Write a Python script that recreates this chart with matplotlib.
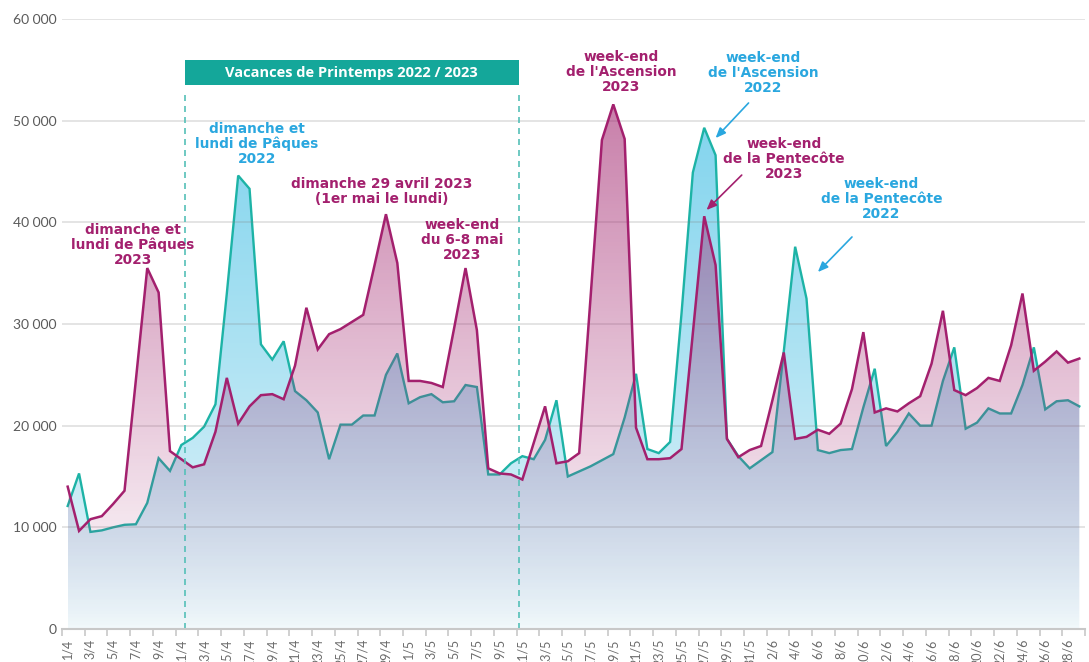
import matplotlib
matplotlib.use("Agg")
import matplotlib.pyplot as plt
import numpy as np
import pandas as pd
from matplotlib.patches import Polygon, Rectangle

plt.rcParams['font.family'] = ['Lato', 'DejaVu Sans']

# days from 1/4 to 29/6
dates = pd.date_range("2023-04-01", periods=90)
day_labels = [f"{d.day}/{d.month}" for d in dates]

visits_2022 = [12100, 15300, 9550, 9700, 10000, 10250, 10300, 12400, 16800, 15550,
               18100, 18800, 19900, 22100, 33000, 44600, 43300, 28000, 26500, 28300,
               23400, 22500, 21300, 16700, 20100, 20100, 21000, 21000, 25000, 27100,
               22200, 22800, 23100, 22300, 22400, 24000, 23800, 15200, 15200, 16300,
               17000, 16700, 18600, 22500, 15000, 15500, 16000, 16600, 17200, 20800,
               25100, 17700, 17300, 18400, 31000, 44900, 49300, 46600, 18700, 17000,
               15800, 16600, 17400, 27300, 37600, 32500, 17600, 17300, 17600, 17700,
               21800, 25600, 18000, 19400, 21200, 20000, 20000, 24400, 27700, 19700,
               20300, 21700, 21200, 21200, 24000, 27700, 21600, 22400, 22500, 21900]

visits_2023 = [14000, 9650, 10800, 11100, 12300, 13600, 24500, 35500, 33100, 17500,
               16700, 15900, 16200, 19400, 24700, 20200, 21900, 23000, 23100, 22600,
               25900, 31600, 27500, 29000, 29500, 30200, 30900, 35800, 40800, 36000,
               24400, 24400, 24200, 23800, 29600, 35500, 29400, 15800, 15300, 15200,
               14700, 18300, 21900, 16300, 16500, 17300, 32600, 48100, 51600, 48200,
               19800, 16700, 16700, 16800, 17700, 29100, 40600, 35800, 18700, 16900,
               17600, 18000, 22500, 27200, 18700, 18900, 19600, 19200, 20200, 23600,
               29200, 21300, 21700, 21400, 22200, 22900, 26100, 31300, 23500, 23000,
               23700, 24700, 24400, 27900, 33000, 25400, 26300, 27300, 26200, 26600]

yticks = [0, 10000, 20000, 30000, 40000, 50000, 60000]

TEAL = '#1db3a6'
MAGENTA = '#a3206e'
BLUE = '#2aa7df'
BOX = '#14a79a'
NOTE_FONT = ['DejaVu Sans']
BOX_FONT = ['Open Sans', 'DejaVu Sans']

fig = plt.figure(figsize=(10.89, 6.62), dpi=100)
ax = fig.add_axes([62 / 1089, 33 / 662, 1023 / 1089, 610 / 662])
x = np.arange(len(day_labels))


def gradient_area(ax, x, y, top, bottom, ymax, z, gamma=1.0):
    verts = [(x[0], 0)] + list(zip(x, y)) + [(x[-1], 0)]
    poly = Polygon(verts, closed=True, fc='none', ec='none')
    ax.add_patch(poly)
    t = (np.linspace(0, 1, 256) ** gamma)[:, None]
    grad = np.array(bottom) + (np.array(top) - np.array(bottom)) * t
    im = ax.imshow(grad.reshape(256, 1, 4), extent=[x[0], x[-1], 0, ymax],
                   origin='lower', aspect='auto', zorder=z, interpolation='bilinear')
    im.set_clip_path(poly)


# 2022 area (opaque blue gradient), then its line
gradient_area(ax, x, visits_2022, (0.50, 0.83, 0.93, 1), (0.95, 0.975, 0.985, 1), 52000, 1, 0.8)
ax.plot(x, visits_2022, color=TEAL, lw=1.7, zorder=2, solid_joinstyle='miter')
# 2023 area (translucent magenta), then its line
gradient_area(ax, x, visits_2023, (0.64, 0.16, 0.44, 0.6), (0.64, 0.16, 0.44, 0.0), 52000, 3, 1.0)
ax.plot(x, visits_2023, color=MAGENTA, lw=1.8, zorder=4, solid_joinstyle='miter')

# holidays band
for xv in (10.3, 39.7):
    ax.plot([xv, xv], [0, 52900], color='#55c0b8', lw=1.2, ls=(0, (3.6, 3.0)), zorder=5)
ax.add_patch(Rectangle((10.3, 53500), 29.4, 2450, fc=BOX, ec='none', zorder=6))
ax.text(25.0, 54700, "Vacances de Printemps 2022 / 2023", color='white', fontsize=10.5,
        fontweight='bold', ha='center', va='center', zorder=7, family=BOX_FONT)

# annotations
notes = [
    (5.74, 37770, "dimanche et\nlundi de Pâques\n2023", MAGENTA),
    (16.65, 47700, "dimanche et\nlundi de Pâques\n2022", BLUE),
    (27.6, 43030, "dimanche 29 avril 2023\n(1er mai le lundi)", MAGENTA),
    (34.7, 38260, "week-end\ndu 6-8 mai\n2023", MAGENTA),
    (48.7, 54790, "week-end\nde l'Ascension\n2023", MAGENTA),
    (61.2, 54690, "week-end\nde l'Ascension\n2022", BLUE),
    (63.0, 46230, "week-end\nde la Pentecôte\n2023", MAGENTA),
    (71.6, 42290, "week-end\nde la Pentecôte\n2022", BLUE),
]
for nx, ny, txt, col in notes:
    ax.text(nx, ny, txt, color=col, fontsize=9.9, fontweight='bold', ha='center',
            va='center', linespacing=1.08, zorder=7, family=NOTE_FONT)

arrows = [
    ((59.9, 51740), (57.0, 48290), BLUE),
    ((59.3, 44650), (56.2, 41210), MAGENTA),
    ((69.0, 38560), (66.0, 35110), BLUE),
]
for tail, head, col in arrows:
    ax.annotate("", xy=head, xytext=tail, zorder=7,
                arrowprops=dict(arrowstyle='-|>,head_length=0.6,head_width=0.25',
                                color=col, lw=1.2, shrinkA=0, shrinkB=0))

# axes styling
ax.set_xlim(-0.5, 89.5)
ax.set_ylim(0, 60000)
ax.set_yticks(yticks)
ax.set_yticklabels([f"{v:,}".replace(",", " ") for v in yticks], fontsize=10, color='#5a5a5a')
ax.tick_params(axis='y', length=0, pad=4)
ax.set_xticks(x[::2])
ax.set_xticklabels(day_labels[::2], rotation=90, fontsize=9, color='#6b6b6b')
ax.tick_params(axis='x', which='major', length=0, pad=7)
ax.set_xticks(np.arange(-0.5, 90, 2), minor=True)
ax.tick_params(axis='x', which='minor', length=5, color='#c8c8c8', width=1.2)

ax.yaxis.grid(True, color=(0.5, 0.5, 0.5), alpha=0.25, lw=1.2, zorder=3.5)
ax.set_axisbelow(False)
for side in ('top', 'right', 'left'):
    ax.spines[side].set_visible(False)
ax.spines['bottom'].set_color('#c8c8c8')
ax.spines['bottom'].set_linewidth(1.5)
ax.spines['bottom'].set_zorder(5)

fig.savefig("out.png", dpi=100)
